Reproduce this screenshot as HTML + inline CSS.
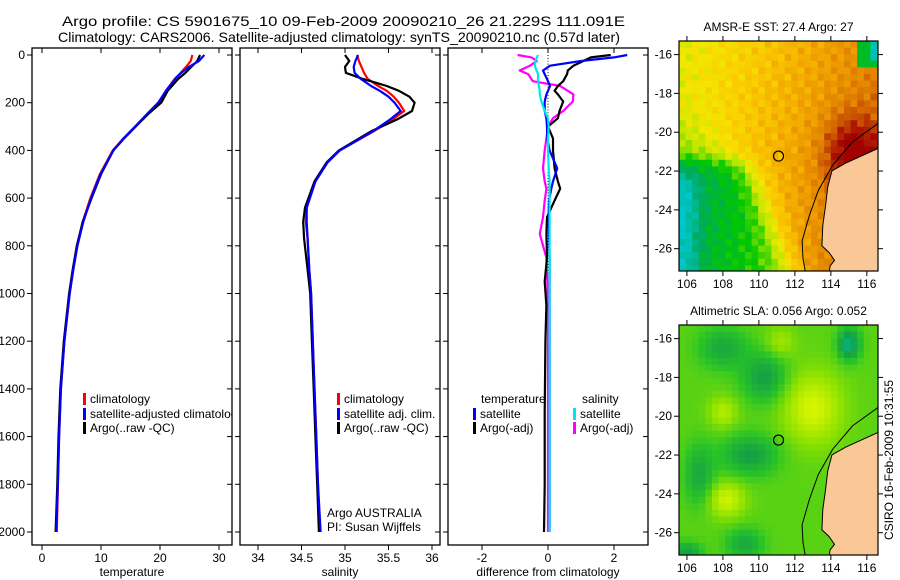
<!DOCTYPE html>
<html><head><meta charset="utf-8">
<style>
html,body{margin:0;padding:0;background:#fff;}
svg{display:block;font-family:"Liberation Sans",sans-serif;}
</style></head>
<body>
<svg id="chart" width="900" height="580" viewBox="0 0 900 580" xmlns="http://www.w3.org/2000/svg"></svg>
<script>
// ---------- DATA ----------
const tempDepths = [0,25,50,75,100,150,200,250,300,350,400,500,600,700,800,900,1000,1200,1400,1600,1800,2000];
const tempClim   = [25.5,25.2,24.4,23.5,22.5,21,19.8,17.8,15.8,13.8,12.0,9.8,8.2,6.9,6.0,5.3,4.7,3.8,3.2,2.9,2.7,2.5];
const tempSat    = [27.5,26.6,24.9,23.6,22.6,21,19.7,17.7,15.8,13.8,12.1,9.9,8.3,7.0,6.0,5.3,4.7,3.8,3.2,2.9,2.7,2.4];
const tempArgo   = [26.8,26.3,25.3,24.3,23.1,21.3,20.2,17.9,15.9,13.9,12.1,10.0,8.4,6.9,5.9,5.2,4.6,3.7,3.1,2.8,2.6,2.3];

const salDepths = [0,25,50,75,100,130,150,175,200,235,270,320,400,450,530,640,700,770,900,1000,1200,1400,1600,1800,2000];
const salClim   = [35.14,35.16,35.19,35.22,35.26,35.38,35.48,35.56,35.62,35.68,35.55,35.33,34.94,34.80,34.66,34.56,34.55,34.57,34.59,34.61,34.63,34.65,34.67,34.69,34.71];
const salSat    = [35.15,35.12,35.10,35.11,35.18,35.30,35.40,35.50,35.57,35.64,35.52,35.32,34.94,34.80,34.66,34.56,34.56,34.57,34.59,34.61,34.63,34.65,34.67,34.69,34.72];
const salArgo   = [35.0,35.05,35.0,35.01,35.2,35.48,35.62,35.74,35.8,35.77,35.6,35.3,34.93,34.79,34.65,34.54,34.52,34.53,34.57,34.6,34.62,34.64,34.66,34.68,34.70];

const diffDepths = [0,10,25,45,65,80,110,130,150,165,195,235,265,300,350,400,475,530,560,610,680,750,850,950,1050,1200,1500,1800,2000];
const diffTempSat  = [2.4,2.0,1.0,0.06,-0.15,-0.1,0.0,0.06,0,-0.05,-0.1,-0.1,-0.05,-0.03,-0.02,0.05,0.28,0.15,0.1,0.03,0.02,0.03,0.05,0.05,0.05,0.05,0.05,0.05,0.05];
const diffTempArgo = [1.9,1.3,1.07,0.77,0.6,0.58,0.46,0.3,0.2,0.3,0.46,0.35,0.3,0.0,0.15,0.15,0.2,0.3,0.37,0.2,-0.03,-0.05,-0.03,-0.1,-0.05,-0.08,-0.1,-0.1,-0.12];
const diffSalArgo  = [-0.92,-0.5,-0.34,-0.55,-0.86,-0.6,-0.46,0.37,0.6,0.77,0.75,0.46,0.15,0.0,-0.05,-0.1,-0.15,-0.1,-0.05,-0.1,-0.15,-0.25,-0.05,-0.02,0.0,0.0,0.0,0.0,0.0];
const diffSalSat   = [-0.3,-0.34,-0.38,-0.4,-0.35,-0.3,-0.3,-0.28,-0.25,-0.25,-0.2,-0.1,0.0,0.02,0.0,0.0,0.02,0.05,0.05,0.05,0.05,0.05,0.05,0.05,0.05,0.05,0.05,0.05,0.05];

const depthTicks = [0,200,400,600,800,1000,1200,1400,1600,1800,2000];
const tempTicks = [0,10,20,30];
const salTicks = [34,34.5,35,35.5,36];
const diffTicks = [-2,0,2];
const latTicks = [-16,-18,-20,-22,-24,-26];
const lonTicks = [106,108,110,112,114,116];
const coastLon = [116.7,114.8,114.06,113.83,113.7,113.55,113.5,113.9,114.2,113.95,113.9,116.7];
const coastLat = [-20.8,-21.6,-22.0,-22.8,-23.8,-24.8,-25.85,-26.2,-26.6,-26.9,-27.3,-27.3];
const contourLon = [116.7,115.2,114.1,113.3,112.8,112.4,112.45,112.6];
const contourLat = [-19.5,-20.5,-21.7,-23.0,-24.3,-25.6,-26.5,-27.3];
const floatLon = 111.091, floatLat = -21.229;

// ---------- HELPERS ----------
const NS = "http://www.w3.org/2000/svg";
const svg = document.getElementById('chart');
function el(tag, attrs, parent){
  const e = document.createElementNS(NS, tag);
  for (const k in attrs) e.setAttribute(k, attrs[k]);
  (parent||svg).appendChild(e);
  return e;
}
function txt(x,y,s,anchor,size,parent){
  const t = el('text',{x:x,y:y,'font-size':size||12,'text-anchor':anchor||'start',fill:'#000'},parent);
  t.textContent = s; return t;
}
const Y0=55, Y1=532, BOT=545, TOP=48;
const yD = d => Y0 + (Y1-Y0)*d/2000;

function panel(name, x0, x1, va, pa, vb, pb, xticks, label, showY){
  const g = el('g',{});
  
  
  const xs = v => pa + (pb-pa)*(v-va)/(vb-va);
  const cid = name+'-clip';
  const cp = el('clipPath',{id:cid},g);
  el('rect',{x:x0,y:TOP,width:x1-x0,height:BOT-TOP},cp);
  const inner = el('g',{'clip-path':'url(#'+cid+')'},g);
  el('rect',{x:x0,y:TOP,width:x1-x0,height:BOT-TOP,fill:'none',stroke:'#000','stroke-width':1.3},g);
  xticks.forEach(v=>{
    const x = xs(v);
    el('line',{x1:x,x2:x,y1:BOT,y2:BOT+5,stroke:'#000'},g);
    el('line',{x1:x,x2:x,y1:TOP,y2:TOP+5,stroke:'#000'},g);
    const t = txt(x,562,String(v),'middle',12,g);
    
    
  });
  depthTicks.forEach(d=>{
    const y=yD(d);
    el('line',{x1:x0-5,x2:x0,y1:y,y2:y,stroke:'#000'},g);
    el('line',{x1:x1-5,x2:x1,y1:y,y2:y,stroke:'#000'},g);
    if(showY){
      const t = txt(x0-7,y+4,String(d),'end',12,g);
      
      
    }
  });
  const lt = txt((x0+x1)/2,576,label,'middle',12,g);
  
  
  return {g:inner, xs:xs};
}
function series(p, depths, vals, color, name, w){
  const pts = depths.map((d,i)=> p.xs(vals[i]).toFixed(1)+','+yD(d).toFixed(1)).join(' ');
  const l = el('polyline',{points:pts,fill:'none',stroke:color,'stroke-width':w||2.2,'stroke-linejoin':'round'},p.g);
  
  
}
function legend(p,x,y,color,label,name){
  const g = el('g',{},p.g);
  
  
  el('rect',{x:x,y:y-10,width:3,height:12,fill:color},g);
  txt(x+7,y,label,'start',12,g);
}

// ---------- TITLES ----------
let t1 = txt(62,26,'Argo profile: CS 5901675_10 09-Feb-2009 20090210_26 21.229S 111.091E','start',14);
t1.setAttribute('textLength','563'); t1.setAttribute('lengthAdjust','spacingAndGlyphs');
 
let t2 = txt(58,42,'Climatology: CARS2006. Satellite-adjusted climatology: synTS_20090210.nc (0.57d later)','start',14);
t2.setAttribute('textLength','562'); t2.setAttribute('lengthAdjust','spacingAndGlyphs');
 

// ---------- PANEL 1 ----------
const p1 = panel('temperature-panel',32,232,0,42,30,219,tempTicks,'temperature',true);
series(p1,tempDepths,tempClim,'#ff0000','temp-climatology-line');
series(p1,tempDepths,tempArgo,'#000000','temp-argo-line');
series(p1,tempDepths,tempSat,'#0000ff','temp-satellite-line');
legend(p1,83,403,'#ff0000','climatology','legend-climatology');
legend(p1,83,418,'#0000ff','satellite-adjusted climatology','legend-satellite');
legend(p1,83,432,'#000000','Argo(..raw -QC)','legend-argo');

// ---------- PANEL 2 ----------
const p2 = panel('salinity-panel',240,440,34,258,36,432,salTicks,'salinity',false);
series(p2,salDepths,salClim,'#ff0000','sal-climatology-line');
series(p2,salDepths,salArgo,'#000000','sal-argo-line');
series(p2,salDepths,salSat,'#0000ff','sal-satellite-line');
legend(p2,337,403,'#ff0000','climatology','legend-climatology');
legend(p2,337,418,'#0000ff','satellite adj. clim.','legend-satellite');
legend(p2,337,432,'#000000','Argo(..raw -QC)','legend-argo');
let a1 = txt(327,517,'Argo AUSTRALIA','start',12,p2.g);  
let a2 = txt(327,531,'PI: Susan Wijffels','start',12,p2.g);  

// ---------- PANEL 3 ----------
const p3 = panel('difference-panel',448,648,-2,482,2,614,diffTicks,'difference from climatology',false);
for(let d=0; d<2000; d+=12){
  el('line',{x1:p3.xs(0),x2:p3.xs(0),y1:yD(d),y2:yD(d+4),stroke:'#000','stroke-width':1},p3.g);
}
series(p3,diffDepths,diffSalArgo,'#ff00ff','diff-sal-argo-line');
series(p3,diffDepths,diffTempArgo,'#000000','diff-temp-argo-line');
series(p3,diffDepths,diffTempSat,'#0000ff','diff-temp-satellite-line');
series(p3,diffDepths,diffSalSat,'#00e5ee','diff-sal-satellite-line');
let lh1 = txt(481,403,'temperature','start',12,p3.g);  
let lh2 = txt(582,403,'salinity','start',12,p3.g);  
legend(p3,473,418,'#0000ff','satellite','legend-temp-satellite');
legend(p3,473,432,'#000000','Argo(-adj)','legend-temp-argo');
legend(p3,573,418,'#00e5ee','satellite','legend-sal-satellite');
legend(p3,573,432,'#ff00ff','Argo(-adj)','legend-sal-argo');

// ---------- MAPS ----------
function lerpColor(stops, v){
  v=Math.max(0,Math.min(1,v));
  for(let i=1;i<stops.length;i++){
    if(v<=stops[i][0]){
      const a=stops[i-1], b=stops[i], f=(v-a[0])/(b[0]-a[0]);
      const c=[0,1,2].map(k=>Math.round(a[1][k]+(b[1][k]-a[1][k])*f));
      return 'rgb('+c.join(',')+')';
    }
  }
  const l=stops[stops.length-1][1]; return 'rgb('+l.join(',')+')';
}
const sstStops=[[0,[0,200,210]],[0.18,[0,170,90]],[0.3,[0,200,0]],[0.42,[170,230,0]],[0.52,[245,230,0]],[0.62,[250,200,0]],[0.72,[240,160,0]],[0.82,[220,120,0]],[0.9,[190,60,0]],[1,[160,0,0]]];
const slaStops=[[0,[0,190,160]],[0.25,[20,160,70]],[0.45,[40,195,40]],[0.65,[140,225,0]],[0.85,[215,245,0]],[1,[245,235,0]]];
const sig = z => 1/(1+Math.exp(-z));

function drawMap(name, x0, y0, x1, y1, title, valFn, stops){
  const g = el('g',{});
  
  
  const lonMin=105.56, lonMax=116.62, latTop=-15.3, latBot=-27.15;
  const xl = lon => x0 + (x1-x0)*(lon-lonMin)/(lonMax-lonMin);
  const yl = lat => y0 + (y1-y0)*(lat-latTop)/(latBot-latTop);
  const clipId = name+'-clip';
  const cp = el('clipPath',{id:clipId},g);
  el('rect',{x:x0,y:y0,width:x1-x0,height:y1-y0},cp);
  const inner = el('g',{'clip-path':'url(#'+clipId+')'},g);
  const cell=6.6;
  for(let y=y0;y<y1;y+=cell){
    for(let x=x0;x<x1;x+=cell){
      const lon=lonMin+(x-x0+cell/2)/(x1-x0)*(lonMax-lonMin);
      const lat=latTop+(y-y0+cell/2)/(y1-y0)*(latBot-latTop);
      el('rect',{x:x.toFixed(1),y:y.toFixed(1),width:cell+0.4,height:cell+0.4,fill:lerpColor(stops,valFn(lon,lat))},inner);
    }
  }
  const land = coastLon.map((v,i)=>xl(v).toFixed(1)+','+yl(coastLat[i]).toFixed(1)).join(' ');
  const lp = el('polygon',{points:land,fill:'#fac896',stroke:'#000','stroke-width':1},inner);
   
  const cont = contourLon.map((v,i)=>xl(v).toFixed(1)+','+yl(contourLat[i]).toFixed(1)).join(' ');
  el('polyline',{points:cont,fill:'none',stroke:'#000','stroke-width':1},inner);
  const fm = el('circle',{cx:xl(floatLon),cy:yl(floatLat),r:5,fill:'none',stroke:'#000','stroke-width':1.2},g);
   
  el('rect',{x:x0,y:y0,width:x1-x0,height:y1-y0,fill:'none',stroke:'#000','stroke-width':1.2},g);
  latTicks.forEach(v=>{
    const y=yl(v);
    el('line',{x1:x0-5,x2:x0,y1:y,y2:y,stroke:'#000'},g);
    el('line',{x1:x1,x2:x1+5,y1:y,y2:y,stroke:'#000'},g);
    const t=txt(x0-7,y+4,String(v),'end',12,g);
     
  });
  lonTicks.forEach(v=>{
    const x=xl(v);
    el('line',{x1:x,x2:x,y1:y1,y2:y1+5,stroke:'#000'},g);
    el('line',{x1:x,x2:x,y1:y0-5,y2:y0,stroke:'#000'},g);
    const t=txt(x,y1+17,String(v),'middle',12,g);
     
  });
  const tt=txt((x0+x1)/2,y0-10,title,'middle',12,g);
   
}
function sst(lon,lat){
  let v = 0.64 + 0.028*(lon-110) - 0.006*(lat+20);
  const gmask = sig((109.3+0.45*(-21.5-lat)-lon)/0.5) * sig((-21.4-lat)/0.3);
  v -= 0.36*gmask;
  v -= 0.18*sig((106.5-lon)/0.25)*sig((-22.3-lat)/0.3);
  v -= 0.1*sig((108-lon)/0.6)*sig((-19.5-lat)/0.6)*(1-gmask);
  v += 0.26*Math.exp(-(((115.2-lon)/1.6)**2+((-21.2-lat)/2.0)**2));
  v += 0.05*Math.sin(lon*7.3+lat*3.1)*Math.cos(lat*5.7-lon*2.3);
  if(lon>115.6 && lat>-16.6) v = (lon>116.2 && lat>-16.2) ? 0.05 : 0.25;
  return v;
}
function sla(lon,lat){
  let v = 0.55;
  v += 0.3*Math.exp(-(((113-lon)/1.6)**2+((-19.6-lat)/1.8)**2));
  v += 0.28*Math.exp(-(((108.2-lon)/1.0)**2+((-24.3-lat)/0.9)**2));
  v += 0.2*Math.exp(-(((108-lon)/0.8)**2+((-19.8-lat)/0.8)**2));
  v += 0.15*Math.exp(-(((111.2-lon)/0.8)**2+((-16.2-lat)/0.8)**2));
  v -= 0.45*Math.exp(-(((115-lon)/0.6)**2+((-16.3-lat)/0.8)**2));
  v -= 0.3*Math.exp(-(((110.3-lon)/1.2)**2+((-18-lat)/1.2)**2));
  v -= 0.3*Math.exp(-(((109.5-lon)/1.5)**2+((-22-lat)/1.0)**2));
  v -= 0.25*Math.exp(-(((106.7-lon)/0.8)**2+((-23-lat)/1.5)**2));
  v -= 0.25*Math.exp(-(((109.2-lon)/1.0)**2+((-26.6-lat)/0.8)**2));
  v -= 0.25*Math.exp(-(((108-lon)/1.3)**2+((-16.5-lat)/1.0)**2));
  v -= 0.3*Math.exp(-(((106-lon)/0.8)**2+((-27-lat)/0.5)**2));
  return v;
}
drawMap('sst-map',679,41,878,271,'AMSR-E SST: 27.4 Argo: 27',sst,sstStops);
drawMap('sla-map',679,325,878,555,'Altimetric SLA: 0.056 Argo: 0.052',sla,slaStops);

const stamp = txt(0,0,'CSIRO 16-Feb-2009 10:31:55','middle',12);
stamp.setAttribute('transform','translate(893,460) rotate(-90)');


</script>
</body></html>
